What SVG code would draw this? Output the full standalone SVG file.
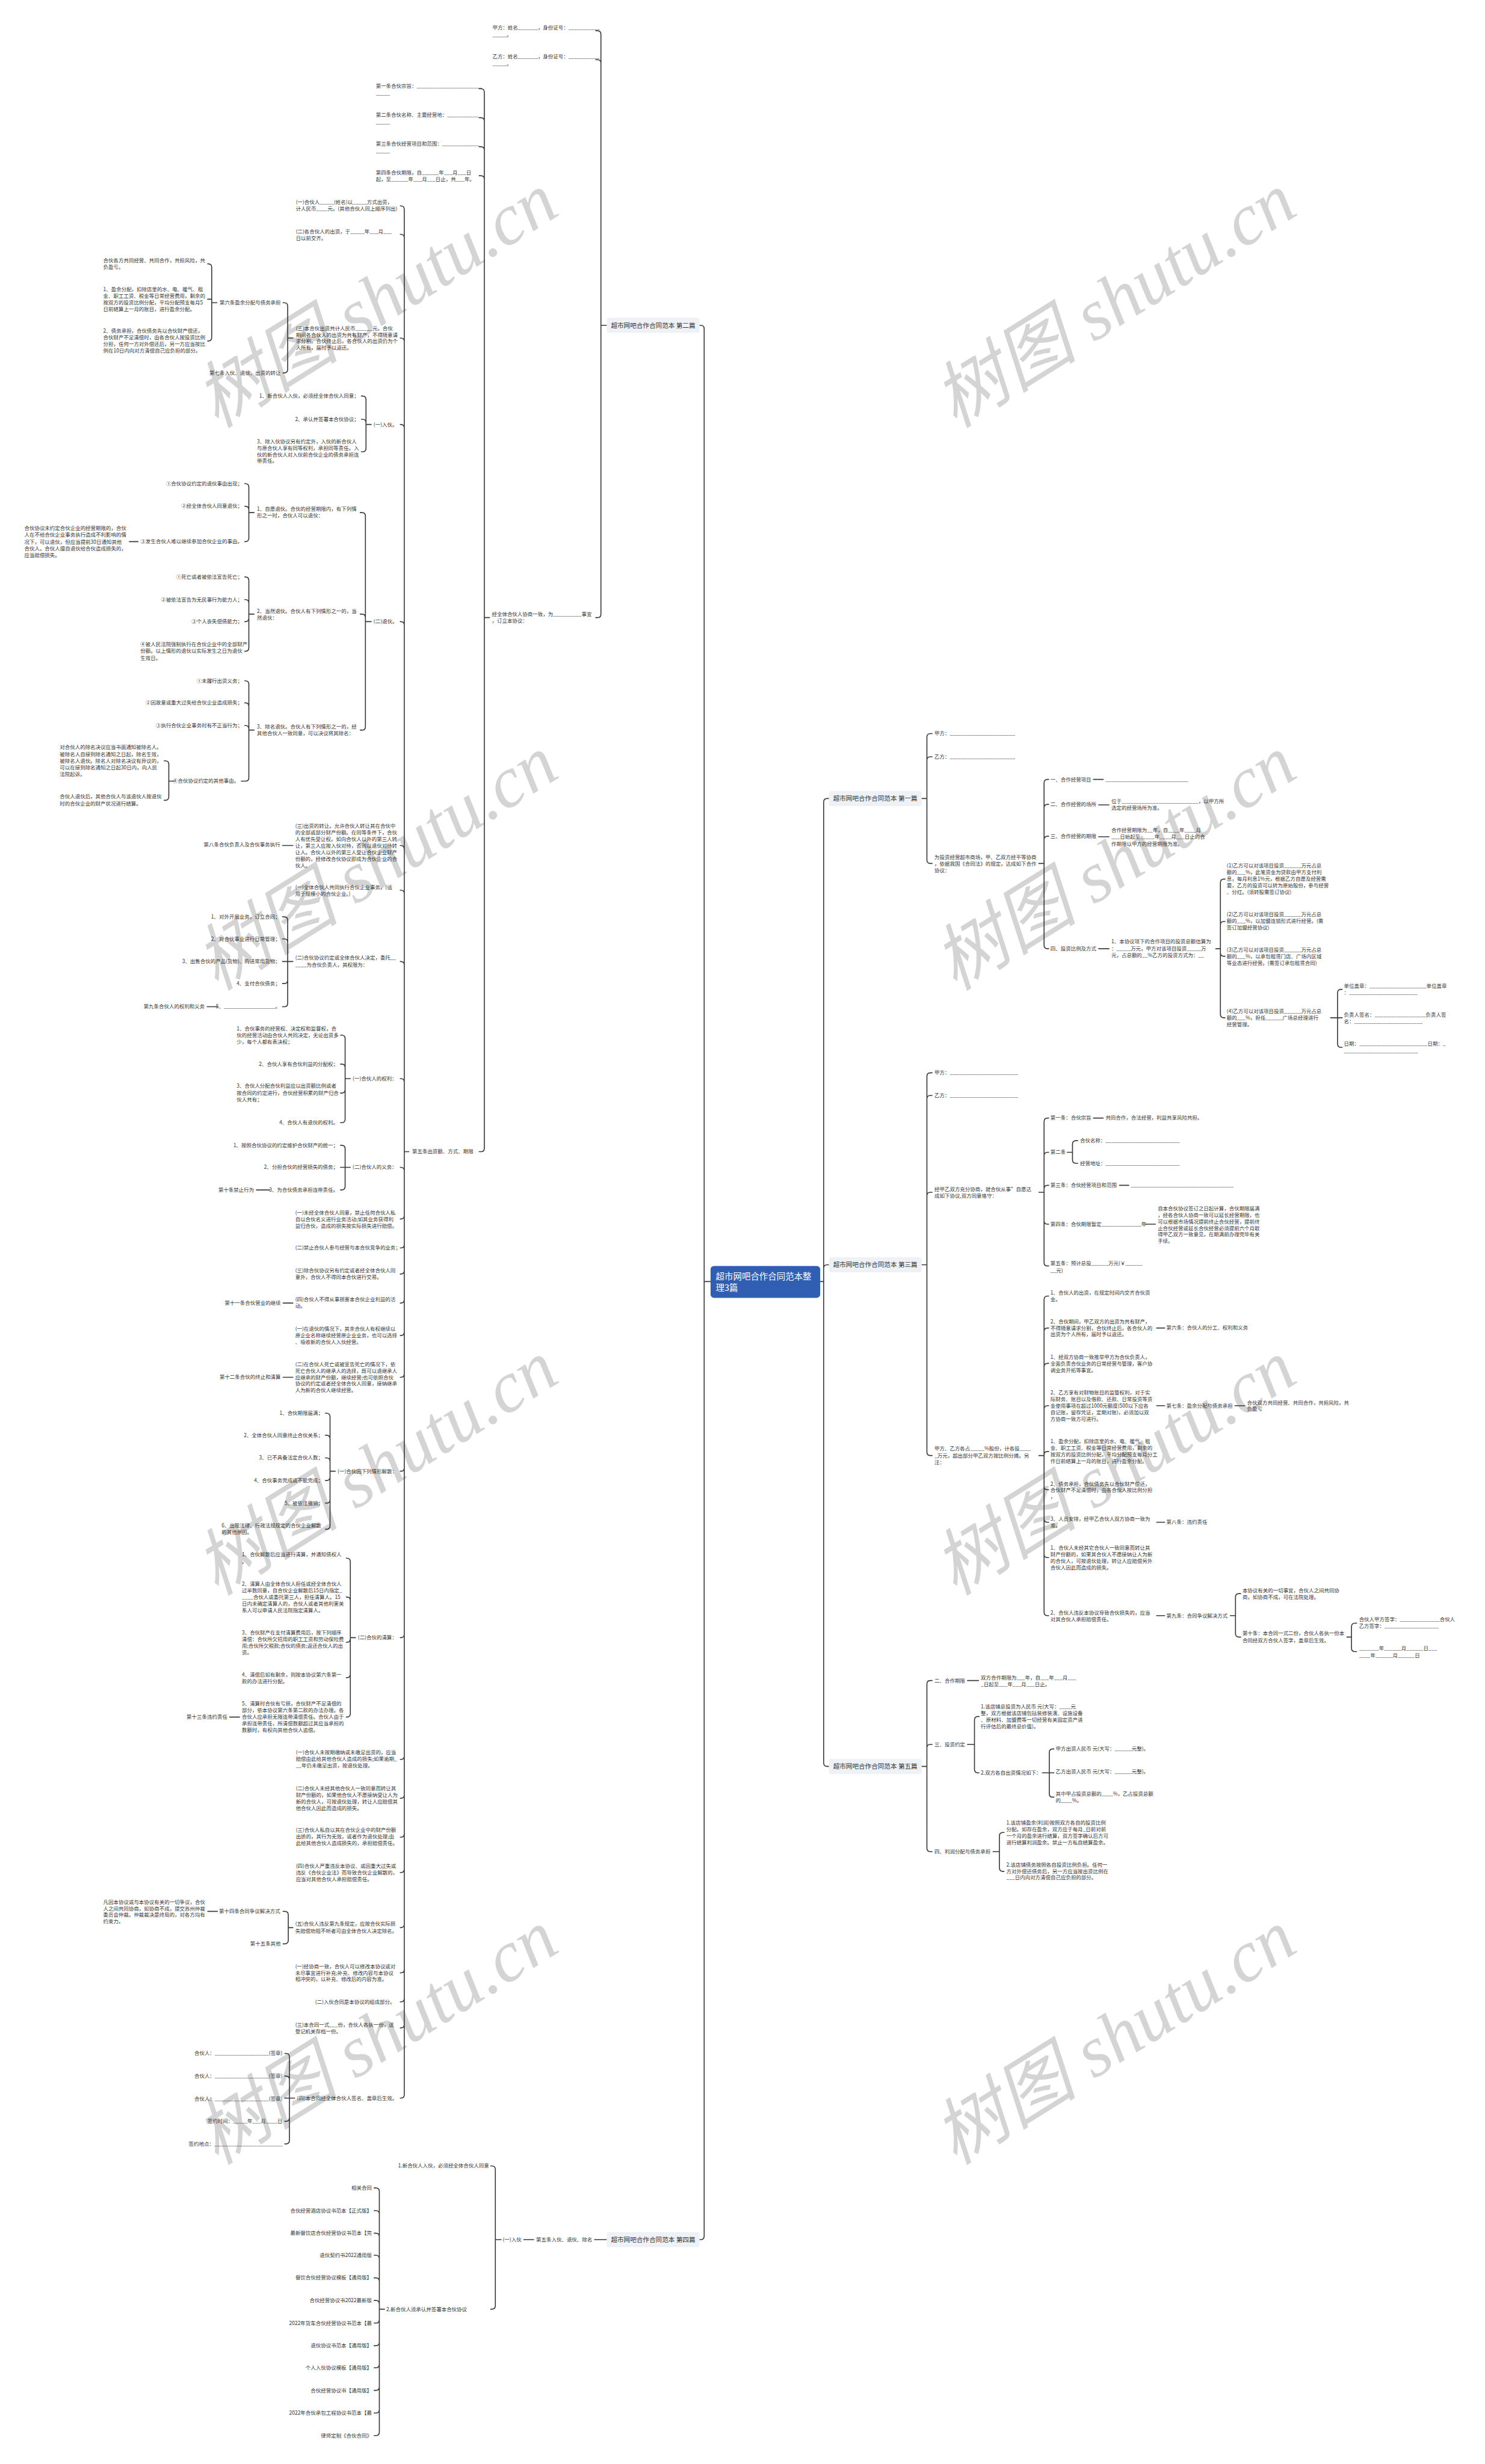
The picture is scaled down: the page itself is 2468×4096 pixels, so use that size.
<svg xmlns="http://www.w3.org/2000/svg" width="2468" height="4096" viewBox="0 0 2468 4096">
<style>
.t{font-family:"Noto Sans CJK SC","Noto Sans",sans-serif;font-size:8.8px;fill:#333}
.e{text-anchor:end}
.bl{font-family:"Noto Sans CJK SC","Noto Sans",sans-serif;font-size:11px;fill:#333;text-anchor:middle}
.bx{fill:#eef1f6}
.c{stroke:#3a3a3a;stroke-width:1.7;fill:none;stroke-linecap:round}
.wm{font-family:"Liberation Serif","Noto Sans CJK SC",serif;font-size:125px;font-style:italic;fill:#d4d4d4;text-anchor:middle}
</style>
<rect width="2468" height="4096" fill="#fff"/>
<g transform="scale(0.964)">
<g id="watermark">
<text class="wm" transform="translate(650 520) rotate(-32)" y="40">树图 shutu.cn</text>
<text class="wm" transform="translate(1923 520) rotate(-32)" y="40">树图 shutu.cn</text>
<text class="wm" transform="translate(650 1490) rotate(-32)" y="40">树图 shutu.cn</text>
<text class="wm" transform="translate(1923 1490) rotate(-32)" y="40">树图 shutu.cn</text>
<text class="wm" transform="translate(650 2533) rotate(-32)" y="40">树图 shutu.cn</text>
<text class="wm" transform="translate(1923 2533) rotate(-32)" y="40">树图 shutu.cn</text>
<text class="wm" transform="translate(650 3515) rotate(-32)" y="40">树图 shutu.cn</text>
<text class="wm" transform="translate(1923 3515) rotate(-32)" y="40">树图 shutu.cn</text>
</g>
<g id="connectors">
<path class="c" d="M1414 2210H1420V1383Q1420 1377 1426 1377H1429M1420 2210V2187Q1420 2181 1426 2181H1429M1420 2210V3040Q1420 3046 1426 3046H1429M1225 2210H1214V567Q1214 561 1208 561H1206M1214 2210V3856Q1214 3862 1208 3862H1206"/>
<path class="c" d="M1589 1377H1598V1271Q1598 1265 1604 1265H1607M1598 1377V1311Q1598 1305 1604 1305H1607M1598 1377V1483Q1598 1489 1604 1489H1607"/>
<path class="c" d="M1791 1489H1800V1350Q1800 1344 1806 1344H1808M1800 1489V1393Q1800 1387 1806 1387H1808M1800 1489V1448Q1800 1442 1806 1442H1808M1800 1489V1630Q1800 1636 1806 1636H1808M1885 1344H1902M1894 1388H1912M1894 1443H1912M1894 1636H1912"/>
<path class="c" d="M2096 1636H2104V1522Q2104 1516 2110 1516H2112M2104 1636V1595Q2104 1589 2110 1589H2112M2104 1636V1643Q2104 1649 2110 1649H2112M2104 1636V1749Q2104 1755 2110 1755H2112"/>
<path class="c" d="M2294 1755H2306V1712Q2306 1706 2312 1706H2314M2306 1755H2314M2306 1755V1800Q2306 1806 2312 1806H2314"/>
<path class="c" d="M1589 2181H1598V1856Q1598 1850 1604 1850H1607M1598 2181V1895Q1598 1889 1604 1889H1607M1598 2181V2062Q1598 2056 1604 2056H1607M1598 2181V2504Q1598 2510 1604 2510H1607"/>
<path class="c" d="M1791 2056H1800V1934Q1800 1928 1806 1928H1808M1800 2056V1993Q1800 1987 1806 1987H1808M1800 2056V2050Q1800 2044 1806 2044H1808M1800 2056V2105Q1800 2111 1806 2111H1808M1800 2056V2177Q1800 2183 1806 2183H1808M1885 1928H1902M1840 1987H1849V1973Q1849 1967 1855 1967H1858M1849 1987V2000Q1849 2006 1855 2006H1858M1930 2044H1946M1975 2111H1992"/>
<path class="c" d="M1791 2510H1800V2241Q1800 2235 1806 2235H1808M1800 2510V2296Q1800 2290 1806 2290H1808M1800 2510V2357Q1800 2351 1806 2351H1808M1800 2510V2430Q1800 2424 1806 2424H1808M1800 2510V2509Q1800 2503 1806 2503H1808M1800 2510V2563Q1800 2569 1806 2569H1808M1800 2510V2619Q1800 2625 1806 2625H1808M1800 2510V2680Q1800 2686 1806 2686H1808M1800 2510V2780Q1800 2786 1806 2786H1808M1994 2290H2008M1994 2424H2008M1994 2625H2008M1994 2786H2008M2129 2424H2146"/>
<path class="c" d="M2121 2786H2130V2754Q2130 2748 2136 2748H2139M2130 2786V2817Q2130 2823 2136 2823H2139M2322 2823H2330V2805Q2330 2799 2336 2799H2339M2330 2823V2842Q2330 2848 2336 2848H2339"/>
<path class="c" d="M1589 3046H1598V2904Q1598 2898 1604 2898H1607M1598 3046V3014Q1598 3008 1604 3008H1607M1598 3046V3187Q1598 3193 1604 3193H1607M1668 2898H1687M1668 3008H1680V2966Q1680 2960 1686 2960H1688M1680 3008V3051Q1680 3057 1686 3057H1688M1797 3057H1809V3022Q1809 3016 1815 3016H1817M1809 3057H1817M1809 3057V3093Q1809 3099 1815 3099H1817M1712 3193H1723V3166Q1723 3160 1729 3160H1731M1723 3193V3221Q1723 3227 1729 3227H1731"/>
<path class="c" d="M1046 3862H1025M920 3862H903M864 3862H854V3741Q854 3735 848 3735H846M854 3862V3976Q854 3982 848 3982H846"/>
<path class="c" d="M663 3982H654V3779Q654 3773 648 3773H645M654 3982V3818Q654 3812 648 3812H645M654 3982V3857Q654 3851 648 3851H645M654 3982V3895Q654 3889 648 3889H645M654 3982V3934Q654 3928 648 3928H645M654 3982V3973Q654 3967 648 3967H645M654 3982V4000Q654 4006 648 4006H645M654 3982V4039Q654 4045 648 4045H645M654 3982V4077Q654 4083 648 4083H645M654 3982V4116Q654 4122 648 4122H645M654 3982V4155Q654 4161 648 4161H645M654 3982V4194Q654 4200 648 4200H645"/>
<path class="c" d="M1046 561H1036V59Q1036 53 1030 53H1027M1036 561V109Q1036 103 1030 103H1027M1036 561V1059Q1036 1065 1030 1065H1027"/>
<path class="c" d="M844 1065H835V159Q835 153 829 153H826M835 1065V209Q835 203 829 203H826M835 1065V259Q835 253 829 253H826M835 1065V309Q835 303 829 303H826M835 1065V1980Q835 1986 829 1986H826"/>
<path class="c" d="M705 1986H697V361Q697 355 691 355H690M697 1986V410Q697 404 691 404H690M697 1986V589Q697 583 691 583H690M697 1986V738Q697 732 691 732H690M697 1986V1078Q697 1072 691 1072H690M697 1986V1464Q697 1458 691 1458H690M697 1986V1541Q697 1535 691 1535H690M697 1986V1664Q697 1658 691 1658H690M697 1986V1866Q697 1860 691 1860H690M697 1986V2019Q697 2013 691 2013H690M697 1986V2096Q697 2102 691 2102H690M697 1986V2146Q697 2152 691 2152H690M697 1986V2191Q697 2197 691 2197H690M697 1986V2241Q697 2247 691 2247H690M697 1986V2297Q697 2303 691 2303H690M697 1986V2369Q697 2375 691 2375H690M697 1986V2531Q697 2537 691 2537H690M697 1986V2818Q697 2824 691 2824H690M697 1986V3028Q697 3034 691 3034H690M697 1986V3095Q697 3101 691 3101H690M697 1986V3162Q697 3168 691 3168H690M697 1986V3223Q697 3229 691 3229H690M697 1986V3318Q697 3324 691 3324H690M697 1986V3396Q697 3402 691 3402H690M697 1986V3446Q697 3452 691 3452H690M697 1986V3491Q697 3497 691 3497H690M697 1986V3612Q697 3618 691 3618H690"/>
<path class="c" d="M505 583H496V528Q496 522 490 522H488M496 583V637Q496 643 490 643H488M374 522H365V461Q365 455 359 455H358M365 522V516H358M365 522V582Q365 588 359 588H358"/>
<path class="c" d="M640 732H631V689Q631 683 625 683H623M631 732V729Q631 723 625 723H623M631 732V773Q631 779 625 779H623"/>
<path class="c" d="M640 1072H630V890Q630 884 624 884H621M630 1072V1065Q630 1059 624 1059H621M630 1072V1253Q630 1259 624 1259H621"/>
<path class="c" d="M438 884H429V840Q429 834 423 834H422M429 884V879Q429 873 423 873H422M429 884V928Q429 934 423 934H422M238 934H223"/>
<path class="c" d="M438 1059H429V1001Q429 995 423 995H422M429 1059V1040Q429 1034 423 1034H422M429 1059V1066Q429 1072 423 1072H422M429 1059V1117Q429 1123 423 1123H422"/>
<path class="c" d="M438 1259H429V1180Q429 1174 423 1174H422M429 1259V1218Q429 1212 423 1212H422M429 1259V1257Q429 1251 423 1251H422M429 1259V1341Q429 1347 423 1347H416M300 1347H291V1318Q291 1312 285 1312H283M291 1347V1374Q291 1380 285 1380H283"/>
<path class="c" d="M505 1458H487M505 1658H496V1587Q496 1581 490 1581H487M496 1658V1625Q496 1619 490 1619H487M496 1658H487M496 1658V1690Q496 1696 490 1696H487M496 1658V1730Q496 1736 490 1736H487M375 1736H357"/>
<path class="c" d="M604 1860H595V1791Q595 1785 589 1785H587M595 1860V1841Q595 1835 589 1835H587M595 1860V1879Q595 1885 589 1885H587M595 1860V1930Q595 1936 589 1936H587M604 2013H595V1981Q595 1975 589 1975H587M595 2013H587M595 2013V2046Q595 2052 589 2052H587M465 2052H442"/>
<path class="c" d="M505 2247H488M505 2375H488M578 2537H569V2443Q569 2437 563 2437H561M569 2537V2481Q569 2475 563 2475H561M569 2537V2520Q569 2514 563 2514H561M569 2537V2547Q569 2553 563 2553H561M569 2537V2586Q569 2592 563 2592H561M569 2537V2631Q569 2637 563 2637H561"/>
<path class="c" d="M613 2824H604V2693Q604 2687 598 2687H597M604 2824V2760Q604 2754 598 2754H597M604 2824V2826Q604 2832 598 2832H597M604 2824V2887Q604 2893 598 2893H597M604 2824V2955Q604 2961 598 2961H597M413 2961H396"/>
<path class="c" d="M505 3324H497V3302Q497 3296 491 3296H488M497 3324V3346Q497 3352 491 3352H488M375 3296H358"/>
<path class="c" d="M508 3618H499V3547Q499 3541 493 3541H491M499 3618V3586Q499 3580 493 3580H491M499 3618H491M499 3618V3652Q499 3658 493 3658H491M499 3618V3691Q499 3697 493 3697H491"/>
</g>
<g id="center"><rect x="1225" y="2183" width="189" height="55" rx="6" fill="#2f5eb3"/><text x="1234" y="2206" font-family="Noto Sans CJK SC,sans-serif" font-size="15" fill="#fff"><tspan x="1234">超市网吧合作合同范本整</tspan><tspan x="1234" dy="20">理3篇</tspan></text></g>
<g id="b1"><rect class="bx" x="1429" y="1364" width="160" height="26" rx="4"/><text class="bl" x="1509" y="1381">超市网吧合作合同范本 第一篇</text></g>
<g id="b2"><rect class="bx" x="1046" y="548" width="160" height="26" rx="4"/><text class="bl" x="1126" y="565">超市网吧合作合同范本 第二篇</text></g>
<g id="b3"><rect class="bx" x="1429" y="2168" width="160" height="26" rx="4"/><text class="bl" x="1509" y="2185">超市网吧合作合同范本 第三篇</text></g>
<g id="b4"><rect class="bx" x="1046" y="3849" width="160" height="26" rx="4"/><text class="bl" x="1126" y="3866">超市网吧合作合同范本 第四篇</text></g>
<g id="b5"><rect class="bx" x="1429" y="3033" width="160" height="26" rx="4"/><text class="bl" x="1509" y="3050">超市网吧合作合同范本 第五篇</text></g>
<g id="n1">
<text class="t" x="1611" y="1268">甲方：_______________________</text>
<text class="t" x="1611" y="1308">乙方：_______________________</text>
<text class="t" x="1611" y="1481"><tspan x="1611">为投资经营超市商场，甲、乙双方经平等协商</tspan><tspan x="1611" dy="11.5">，依据我国《合同法》的规定，达成如下合作</tspan><tspan x="1611" dy="11.5">协议：</tspan></text>
<text class="t" x="1811" y="1347">一、合作经营项目</text>
<text class="t" x="1906" y="1347">_____________________________</text>
<text class="t" x="1811" y="1390">二、合作经营的场所</text>
<text class="t" x="1916" y="1385"><tspan x="1916">位于___________________________，以甲方所</tspan><tspan x="1916" dy="11.5">选定的经营场所为准。</tspan></text>
<text class="t" x="1811" y="1445">三、合作经营的期限</text>
<text class="t" x="1916" y="1435"><tspan x="1916">合作经营期限为__年，自____年____月</tspan><tspan x="1916" dy="11.5">___日始起至_____年____月___日止的合</tspan><tspan x="1916" dy="11.5">作期限以甲方的经营期限为准。</tspan></text>
<text class="t" x="1811" y="1639">四、投资比例及方式</text>
<text class="t" x="1916" y="1627"><tspan x="1916">1、本协议项下的合作项目的投资总额估算为</tspan><tspan x="1916" dy="11.5">：_____万元，甲方对该项目投资_____万</tspan><tspan x="1916" dy="11.5">元，占总额的__%乙方的投资方式为：__</tspan></text>
<text class="t" x="2115" y="1496"><tspan x="2115">(1)乙方可以对该项目投资______万元占总</tspan><tspan x="2115" dy="11.5">额的___%，此笔资金为贷款由甲方支付利</tspan><tspan x="2115" dy="11.5">息，每月利息1%元，根据乙方自愿及经营需</tspan><tspan x="2115" dy="11.5">要，乙方的投资可以转为原始股份，参与经营</tspan><tspan x="2115" dy="11.5">、分红。(须转股需签订协议)</tspan></text>
<text class="t" x="2115" y="1580"><tspan x="2115">(2)乙方可以对该项目投资______万元占总</tspan><tspan x="2115" dy="11.5">额的___%，以加盟连锁形式进行经营。(需</tspan><tspan x="2115" dy="11.5">签订加盟经营协议)</tspan></text>
<text class="t" x="2115" y="1641"><tspan x="2115">(3)乙方可以对该项目投资______万元占总</tspan><tspan x="2115" dy="11.5">额的___%，以承包租赁门店、广场内区域</tspan><tspan x="2115" dy="11.5">等业态进行经营。(需签订承包租赁合同)</tspan></text>
<text class="t" x="2115" y="1747"><tspan x="2115">(4)乙方可以对该项目投资______万元占总</tspan><tspan x="2115" dy="11.5">额的___%，担任______广场总经理进行</tspan><tspan x="2115" dy="11.5">经营管理。</tspan></text>
<text class="t" x="2317" y="1703"><tspan x="2317">单位盖章：____________________单位盖章</tspan><tspan x="2317" dy="11.5">：________________________</tspan></text>
<text class="t" x="2317" y="1753"><tspan x="2317">负责人签名：__________________负责人签</tspan><tspan x="2317" dy="11.5">名：________________________</tspan></text>
<text class="t" x="2317" y="1803"><tspan x="2317">日期：________________________日期：_</tspan><tspan x="2317" dy="12.5">__________________________</tspan></text>
</g>
<g id="n3">
<text class="t" x="1611" y="1853">甲方：________________________</text>
<text class="t" x="1611" y="1892">乙方：________________________</text>
<text class="t" x="1611" y="2054"><tspan x="1611">经甲乙双方充分协商，就合伙从事”自愿达</tspan><tspan x="1611" dy="11.5">成如下协议,双方同意恪守：</tspan></text>
<text class="t" x="1811" y="1931">第一条：合伙宗旨</text>
<text class="t" x="1906" y="1931">共同合作，合法经营，利益共享风险共担。</text>
<text class="t" x="1811" y="1990">第二条</text>
<text class="t" x="1862" y="1970">合伙名称：__________________________</text>
<text class="t" x="1862" y="2009">经营地址：__________________________</text>
<text class="t" x="1811" y="2047">第三条：合伙经营项目和范围</text>
<text class="t" x="1950" y="2047">____________________________________</text>
<text class="t" x="1811" y="2114">第四条：合伙期限暂定______________年</text>
<text class="t" x="1996" y="2087"><tspan x="1996">自本合伙协议签订之日起计算，合伙期限届满</tspan><tspan x="1996" dy="11.3">，经各合伙人协商一致可以延长经营期限，也</tspan><tspan x="1996" dy="11.3">可以根据市场情况提前终止合伙经营，提前终</tspan><tspan x="1996" dy="11.3">止合伙经营或延长合伙经营必须提前六个月取</tspan><tspan x="1996" dy="11.3">得甲乙双方一致意见，在期满前办理完毕有关</tspan><tspan x="1996" dy="11.3">手续。</tspan></text>
<text class="t" x="1811" y="2182"><tspan x="1811">第五条：预计总投______万元(￥______</tspan><tspan x="1811" dy="11.5">__元)</tspan></text>
<text class="t" x="1611" y="2501"><tspan x="1611">甲方、乙方各占_____%股份，计各投____</tspan><tspan x="1611" dy="12">_万元，超出部分甲乙双方按比例分摊。另</tspan><tspan x="1611" dy="12">注：</tspan></text>
<text class="t" x="1811" y="2232"><tspan x="1811">1、合伙人的出资，在规定时间内交齐合伙资</tspan><tspan x="1811" dy="11.5">金。</tspan></text>
<text class="t" x="1811" y="2282"><tspan x="1811">2、合伙期间，甲乙双方的出资为共有财产，</tspan><tspan x="1811" dy="11.2">不得随意请求分割，合伙终止后，各合伙人的</tspan><tspan x="1811" dy="11.2">出资为个人所有，届时予以返还。</tspan></text>
<text class="t" x="2011" y="2293">第六条：合伙人的分工、权利和义务</text>
<text class="t" x="1811" y="2343"><tspan x="1811">1、经双方协商一致推举甲方为合伙负责人，</tspan><tspan x="1811" dy="11.5">全面负责合伙业务的日常经营与管理，客户协</tspan><tspan x="1811" dy="11.5">调业务开拓等事宜。</tspan></text>
<text class="t" x="1811" y="2405"><tspan x="1811">2、乙方享有对财物账目的监管权利，对于实</tspan><tspan x="1811" dy="11.3">际财务、账目以及借款、还款、日常投资等资</tspan><tspan x="1811" dy="11.3">金使用事项在超过1000元额度(500以下应各</tspan><tspan x="1811" dy="11.3">自记账，留存凭证，定期对账)，必须加以双</tspan><tspan x="1811" dy="11.3">方协商一致方可进行。</tspan></text>
<text class="t" x="2011" y="2427">第七条：盈余分配与债务承担</text>
<text class="t" x="2150" y="2422"><tspan x="2150">合伙双方共同经营、共同合作，共担风险，共</tspan><tspan x="2150" dy="11">负盈亏</tspan></text>
<text class="t" x="1811" y="2489"><tspan x="1811">1、盈余分配，扣除店里的水、电、暖气、租</tspan><tspan x="1811" dy="11.4">金、职工工资、税金等日常经营费用，剩余的</tspan><tspan x="1811" dy="11.4">按双方的投资比例分配，平均分配预支每月分工</tspan><tspan x="1811" dy="11.4">作日前结算上一月的账目，进行盈余分配。</tspan></text>
<text class="t" x="1811" y="2562"><tspan x="1811">2、债务承担，合伙债务先以合伙财产偿还，</tspan><tspan x="1811" dy="11">合伙财产不足清偿时，由各合伙人按比例分担</tspan><tspan x="1811" dy="11">，</tspan></text>
<text class="t" x="1811" y="2622"><tspan x="1811">3、人员安排，经甲乙合伙人双方协商一致为</tspan><tspan x="1811" dy="11.5">准。</tspan></text>
<text class="t" x="2011" y="2628">第八条：违约责任</text>
<text class="t" x="1811" y="2672"><tspan x="1811">1、合伙人未经其它合伙人一致同意而转让其</tspan><tspan x="1811" dy="11.5">财产份额的，如果其合伙人不愿接纳让人为新</tspan><tspan x="1811" dy="11.5">的合伙人，可按退伙处理，转让人应赔偿另外</tspan><tspan x="1811" dy="11.5">合伙人因此而造成的损失。</tspan></text>
<text class="t" x="1811" y="2784"><tspan x="1811">2、合伙人违反本协议导致合伙损失的，应当</tspan><tspan x="1811" dy="11.5">对其合伙人承担赔偿责任。</tspan></text>
<text class="t" x="2011" y="2789">第九条：合同争议解决方式</text>
<text class="t" x="2142" y="2746"><tspan x="2142">本协议有关的一切事宜，合伙人之间共同协</tspan><tspan x="2142" dy="11.5">商，如协商不成，可在法院处理。</tspan></text>
<text class="t" x="2142" y="2820"><tspan x="2142">第十条：本合同一式二份，合伙人各执一份本</tspan><tspan x="2142" dy="11.8">合同经双方合伙人签字，盖章后生效。</tspan></text>
<text class="t" x="2343" y="2796"><tspan x="2343">合伙人甲方签字：______________合伙人</tspan><tspan x="2343" dy="11.5">乙方签字：___________________</tspan></text>
<text class="t" x="2343" y="2845"><tspan x="2343">_______年______月______日___</tspan><tspan x="2343" dy="13">____年______月______日</tspan></text>
</g>
<g id="n5">
<text class="t" x="1611" y="2901">二、合作期限</text>
<text class="t" x="1691" y="2896"><tspan x="1691">双方合作期限为___年，自___年___月___</tspan><tspan x="1691" dy="11.5">_日起至___年___月___日止。</tspan></text>
<text class="t" x="1611" y="3011">三、投资约定</text>
<text class="t" x="1691" y="2946"><tspan x="1691">1.该店铺总投资为人民币 元(大写：____元</tspan><tspan x="1691" dy="11.5">整，双方根据该店铺包括装修装潢、设施设备</tspan><tspan x="1691" dy="11.5">、原材料、加盟费等一切经营有关固定资产进</tspan><tspan x="1691" dy="11.5">行评估后的最终总价值)。</tspan></text>
<text class="t" x="1691" y="3060">2.双方各自出资情况如下：</text>
<text class="t" x="1820" y="3019">甲方出资人民币 元(大写：______元整)。</text>
<text class="t" x="1820" y="3058">乙方出资人民币 元(大写：______元整)。</text>
<text class="t" x="1820" y="3096"><tspan x="1820">其中甲占投资总额的____%，乙占投资总额</tspan><tspan x="1820" dy="11.5">的____%。</tspan></text>
<text class="t" x="1611" y="3196">四、利润分配与债务承担</text>
<text class="t" x="1735" y="3146"><tspan x="1735">1.该店铺盈余(利润)按照双方各自的投资比例</tspan><tspan x="1735" dy="11.4">分配。如存在盈余，双方应于每月_日前对前</tspan><tspan x="1735" dy="11.4">一个月的盈余进行结算，双方签字确认后方可</tspan><tspan x="1735" dy="11.4">进行结算利润盈余。禁止一方私自结算盈余。</tspan></text>
<text class="t" x="1735" y="3219"><tspan x="1735">2.该店铺债务按照各自投资比例负担。任何一</tspan><tspan x="1735" dy="11">方对外偿还债务后，另一方应当按出资比例在</tspan><tspan x="1735" dy="11">___日内向对方清偿自己应负担的部分。</tspan></text>
</g>
<g id="n4">
<text class="t e" x="1021" y="3865">第五条入伙、退伙、除名</text>
<text class="t e" x="899" y="3865">(一)入伙</text>
<text class="t e" x="843" y="3738">1.新合伙人入伙，必须经全体合伙人同意</text>
<text class="t e" x="805" y="3985">2.新合伙人须承认并签署本合伙协议</text>
<text class="t e" x="641" y="3776">相关合同</text>
<text class="t e" x="641" y="3815">合伙经营酒店协议书范本【正式版】</text>
<text class="t e" x="641" y="3854">最新餐饮店合伙经营协议书范本【完</text>
<text class="t e" x="641" y="3892">退伙契约书2022通用版</text>
<text class="t e" x="641" y="3931">餐饮合伙经营协议模板【通用版】</text>
<text class="t e" x="641" y="3970">合伙经营协议书2022最新版</text>
<text class="t e" x="641" y="4009">2022年货车合伙经营协议书范本【最</text>
<text class="t e" x="641" y="4048">退伙协议书范本【通用版】</text>
<text class="t e" x="641" y="4086">个人入伙协议模板【通用版】</text>
<text class="t e" x="641" y="4125">合伙经营协议书【通用版】</text>
<text class="t e" x="641" y="4164">2022年合伙承包工程协议书范本【最</text>
<text class="t e" x="641" y="4203">律师定制《合伙合同》</text>
</g>
<g id="n2">
<text class="t" x="849" y="51"><tspan x="849">甲方：姓名_______，身份证号：___________</tspan><tspan x="849" dy="12">_____。</tspan></text>
<text class="t" x="849" y="101"><tspan x="849">乙方：姓名_______，身份证号：___________</tspan><tspan x="849" dy="12">_____。</tspan></text>
<text class="t" x="848" y="1062"><tspan x="848">经全体合伙人协商一致，为__________事宜</tspan><tspan x="848" dy="11.5">，订立本协议：</tspan></text>
<text class="t" x="648" y="151"><tspan x="648">第一条合伙宗旨：_______________________</tspan><tspan x="648" dy="12.5">_____</tspan></text>
<text class="t" x="648" y="201"><tspan x="648">第二条合伙名称、主要经营地：___________</tspan><tspan x="648" dy="12.5">_____</tspan></text>
<text class="t" x="648" y="251"><tspan x="648">第三条合伙经营项目和范围：_____________</tspan><tspan x="648" dy="12.5">_____</tspan></text>
<text class="t" x="648" y="301"><tspan x="648">第四条合伙期限，自______年___月___日</tspan><tspan x="648" dy="11.5">起，至______年___月___日止，共___年。</tspan></text>
<text class="t e" x="816" y="1989">第五条出资额、方式、期限</text>
<text class="t" x="510" y="352"><tspan x="510">(一)合伙人_____(姓名)以_____方式出资，</tspan><tspan x="510" dy="11.5">计人民币____元。(其他合伙人同上顺序列出)</tspan></text>
<text class="t" x="510" y="402"><tspan x="510">(二)各合伙人的出资，于_____年___月___</tspan><tspan x="510" dy="11.5">日以前交齐。</tspan></text>
<text class="t" x="510" y="569"><tspan x="510">(三)本合伙出资共计人民币______元。合伙</tspan><tspan x="510" dy="11.4">期间各合伙人的出资为共有财产，不得随意请</tspan><tspan x="510" dy="11.4">求分割。合伙终止后，各合伙人的出资仍为个</tspan><tspan x="510" dy="11.4">人所有，届时予以返还。</tspan></text>
<text class="t e" x="484" y="525">第六条盈余分配与债务承担</text>
<text class="t e" x="484" y="646">第七条入伙、退伙、出资的转让</text>
<text class="t" x="178" y="452"><tspan x="178">合伙各方共同经营、共同合作，共担风险，共</tspan><tspan x="178" dy="11.5">负盈亏。</tspan></text>
<text class="t" x="178" y="502"><tspan x="178">1、盈余分配，扣除店里的水、电、暖气、租</tspan><tspan x="178" dy="11.4">金、职工工资、税金等日常经营费用，剩余的</tspan><tspan x="178" dy="11.4">按双方的投资比例分配，平均分配预支每月5</tspan><tspan x="178" dy="11.4">日前结算上一月的账目，进行盈余分配。</tspan></text>
<text class="t" x="178" y="574"><tspan x="178">2、债务承担，合伙债务先以合伙财产偿还，</tspan><tspan x="178" dy="11.4">合伙财产不足清偿时，由各合伙人按投资比例</tspan><tspan x="178" dy="11.4">分担，任何一方对外偿还后，另一方应当按比</tspan><tspan x="178" dy="11.4">例在10日内向对方清偿自己应负担的部分。</tspan></text>
<text class="t" x="644" y="735">(一)入伙。</text>
<text class="t e" x="619" y="686">1、新合伙人入伙，必须经全体合伙人同意；</text>
<text class="t e" x="619" y="726">2、承认并签署本合伙协议；</text>
<text class="t" x="443" y="765"><tspan x="443">3、除入伙协议另有约定外，入伙的新合伙人</tspan><tspan x="443" dy="11">与原合伙人享有同等权利，承担同等责任。入</tspan><tspan x="443" dy="11">伙的新合伙人对入伙前合伙企业的债务承担连</tspan><tspan x="443" dy="11">带责任。</tspan></text>
<text class="t" x="644" y="1075">(二)退伙。</text>
<text class="t" x="443" y="881"><tspan x="443">1、自愿退伙。合伙的经营期限内，有下列情</tspan><tspan x="443" dy="11.5">形之一时，合伙人可以退伙：</tspan></text>
<text class="t e" x="418" y="837">①合伙协议约定的退伙事由出现；</text>
<text class="t e" x="418" y="876">②经全体合伙人同意退伙；</text>
<text class="t e" x="418" y="937">③发生合伙人难以继续参加合伙企业的事由。</text>
<text class="t" x="42" y="914"><tspan x="42">合伙协议未约定合伙企业的经营期限的，合伙</tspan><tspan x="42" dy="11.7">人在不给合伙企业事务执行造成不利影响的情</tspan><tspan x="42" dy="11.7">况下，可以退伙，但应当提前30日通知其他</tspan><tspan x="42" dy="11.7">合伙人。合伙人擅自退伙给合伙造成损失的，</tspan><tspan x="42" dy="11.7">应当赔偿损失。</tspan></text>
<text class="t" x="443" y="1057"><tspan x="443">2、当然退伙。合伙人有下列情形之一的，当</tspan><tspan x="443" dy="11.5">然退伙：</tspan></text>
<text class="t e" x="418" y="998">①死亡或者被依法宣告死亡；</text>
<text class="t e" x="418" y="1037">②被依法宣告为无民事行为能力人；</text>
<text class="t e" x="418" y="1075">③个人丧失偿债能力；</text>
<text class="t" x="242" y="1114"><tspan x="242">④被人民法院强制执行在合伙企业中的全部财产</tspan><tspan x="242" dy="11.8">份额。以上情形的退伙以实际发生之日为退伙</tspan><tspan x="242" dy="11.8">生效日。</tspan></text>
<text class="t" x="443" y="1256"><tspan x="443">3、除名退伙。合伙人有下列情形之一的，经</tspan><tspan x="443" dy="11.5">其他合伙人一致同意，可以决议将其除名：</tspan></text>
<text class="t e" x="418" y="1177">①未履行出资义务；</text>
<text class="t e" x="418" y="1215">②因故意或重大过失给合伙企业造成损失；</text>
<text class="t e" x="418" y="1254">③执行合伙企业事务时有不正当行为；</text>
<text class="t e" x="412" y="1350">④合伙协议约定的其他事由。</text>
<text class="t" x="103" y="1292"><tspan x="103">对合伙人的除名决议应当书面通知被除名人。</tspan><tspan x="103" dy="11.5">被除名人自接到除名通知之日起，除名生效，</tspan><tspan x="103" dy="11.5">被除名人退伙。除名人对除名决议有异议的，</tspan><tspan x="103" dy="11.5">可以在接到除名通知之日起30日内，向人民</tspan><tspan x="103" dy="11.5">法院起诉。</tspan></text>
<text class="t" x="103" y="1377"><tspan x="103">合伙人退伙后，其他合伙人与该退伙人按退伙</tspan><tspan x="103" dy="11.5">时的合伙企业的财产状况进行结算。</tspan></text>
<text class="t" x="509" y="1427"><tspan x="509">(三)出资的转让。允许合伙人转让其在合伙中</tspan><tspan x="509" dy="11.4">的全部或部分财产份额。在同等条件下，合伙</tspan><tspan x="509" dy="11.4">人有优先受让权。如向合伙人以外的第三人转</tspan><tspan x="509" dy="11.4">让，第三人应按入伙对待，否则以退伙对待转</tspan><tspan x="509" dy="11.4">让人。合伙人以外的第三人受让合伙企业财产</tspan><tspan x="509" dy="11.4">份额的，经修改合伙协议即成为合伙企业的合</tspan><tspan x="509" dy="11.4">伙人。</tspan></text>
<text class="t e" x="483" y="1460">第八条合伙负责人及合伙事务执行</text>
<text class="t" x="509" y="1533"><tspan x="509">(一)全体合伙人共同执行合伙企业事务。(适</tspan><tspan x="509" dy="11.5">用于规模小的合伙企业。)</tspan></text>
<text class="t" x="509" y="1655"><tspan x="509">(二)合伙协议约定或全体合伙人决定，委托__</tspan><tspan x="509" dy="11.5">____为合伙负责人，其权限为：</tspan></text>
<text class="t e" x="483" y="1584">1、对外开展业务，订立合同；</text>
<text class="t e" x="483" y="1622">2、对合伙事业进行日常管理；</text>
<text class="t e" x="483" y="1661">3、出售合伙的产品(货物)、购进常用货物；</text>
<text class="t e" x="483" y="1699">4、支付合伙债务；</text>
<text class="t e" x="483" y="1739">5、__________________。</text>
<text class="t e" x="353" y="1739">第九条合伙人的权利和义务</text>
<text class="t" x="608" y="1863">(一)合伙人的权利：</text>
<text class="t" x="408" y="1777"><tspan x="408">1、合伙事务的经营权、决定权和监督权，合</tspan><tspan x="408" dy="11.3">伙的经营活动由合伙人共同决定，无论出资多</tspan><tspan x="408" dy="11.3">少，每个人都有表决权；</tspan></text>
<text class="t e" x="583" y="1838">2、合伙人享有合伙利益的分配权；</text>
<text class="t" x="408" y="1876"><tspan x="408">3、合伙人分配合伙利益应以出资额比例或者</tspan><tspan x="408" dy="11.8">按合同的约定进行，合伙经营积累的财产归合</tspan><tspan x="408" dy="11.8">伙人共有；</tspan></text>
<text class="t e" x="583" y="1939">4、合伙人有退伙的权利。</text>
<text class="t" x="608" y="2016">(二)合伙人的义务：</text>
<text class="t e" x="583" y="1978">1、按照合伙协议的约定维护合伙财产的统一；</text>
<text class="t e" x="583" y="2016">2、分担合伙的经营损失的债务；</text>
<text class="t e" x="583" y="2055">3、为合伙债务承担连带责任。</text>
<text class="t e" x="438" y="2055">第十条禁止行为</text>
<text class="t" x="509" y="2094"><tspan x="509">(一)未经全体合伙人同意，禁止任何合伙人私</tspan><tspan x="509" dy="11.5">自以合伙名义进行业务活动;如其业务获得利</tspan><tspan x="509" dy="11.5">益归合伙，造成的损失按实际损失进行赔偿。</tspan></text>
<text class="t" x="509" y="2155">(二)禁止合伙人参与经营与本合伙竞争的业务；</text>
<text class="t" x="509" y="2194"><tspan x="509">(三)除合伙协议另有约定或者经全体合伙人同</tspan><tspan x="509" dy="11.5">意外，合伙人不得同本合伙进行交易。</tspan></text>
<text class="t" x="509" y="2244"><tspan x="509">(四)合伙人不得从事损害本合伙企业利益的活</tspan><tspan x="509" dy="11.5">动。</tspan></text>
<text class="t e" x="484" y="2250">第十一条合伙营业的继续</text>
<text class="t" x="509" y="2295"><tspan x="509">(一)在退伙的情况下，其余合伙人有权继续以</tspan><tspan x="509" dy="11">原企业名称继续经营原企业业务，也可以选择</tspan><tspan x="509" dy="11">、吸收新的合伙人入伙经营。</tspan></text>
<text class="t" x="509" y="2356"><tspan x="509">(二)在合伙人死亡或被宣告死亡的情况下，依</tspan><tspan x="509" dy="11.1">死亡合伙人的继承人的选择，既可以退继承人</tspan><tspan x="509" dy="11.1">应继承的财产份额，继续经营;也可依照合伙</tspan><tspan x="509" dy="11.1">协议的约定或者经全体合伙人同意，接纳继承</tspan><tspan x="509" dy="11.1">人为新的合伙人继续经营。</tspan></text>
<text class="t e" x="484" y="2378">第十二条合伙的终止和清算</text>
<text class="t" x="582" y="2540">(一)合伙因下列情形解散：</text>
<text class="t e" x="557" y="2440">1、合伙期限届满；</text>
<text class="t e" x="557" y="2478">2、全体合伙人同意终止合伙关系；</text>
<text class="t e" x="557" y="2517">3、已不具备法定合伙人数；</text>
<text class="t e" x="557" y="2556">4、合伙事务完成或不能完成；</text>
<text class="t e" x="557" y="2595">5、被依法撤销；</text>
<text class="t" x="382" y="2634"><tspan x="382">6、出现法律、行政法规规定的合伙企业解散</tspan><tspan x="382" dy="11.5">的其他原因。</tspan></text>
<text class="t" x="617" y="2827">(二)合伙的清算：</text>
<text class="t" x="417" y="2684"><tspan x="417">1、合伙解散后应当进行清算，并通知债权人</tspan><tspan x="417" dy="12.5">。</tspan></text>
<text class="t" x="417" y="2734"><tspan x="417">2、清算人由全体合伙人担任或经全体合伙人</tspan><tspan x="417" dy="11.5">过半数同意，自合伙企业解散后15日内指定_</tspan><tspan x="417" dy="11.5">____合伙人或委托第三人，担任清算人。15</tspan><tspan x="417" dy="11.5">日内未确定清算人的，合伙人或者其他利害关</tspan><tspan x="417" dy="11.5">系人可以申请人民法院指定清算人。</tspan></text>
<text class="t" x="417" y="2818"><tspan x="417">3、合伙财产在支付清算费用后，按下列顺序</tspan><tspan x="417" dy="11.5">清偿：合伙所欠招用的职工工资和劳动保险费</tspan><tspan x="417" dy="11.5">用;合伙所欠税款;合伙的债务;返还合伙人的出</tspan><tspan x="417" dy="11.5">资。</tspan></text>
<text class="t" x="417" y="2891"><tspan x="417">4、清偿后如有剩余，则按本协议第六条第一</tspan><tspan x="417" dy="11">款的办法进行分配。</tspan></text>
<text class="t" x="417" y="2941"><tspan x="417">5、清算时合伙有亏损，合伙财产不足清偿的</tspan><tspan x="417" dy="11.5">部分，依本协议第六条第二款的办法办理。各</tspan><tspan x="417" dy="11.5">合伙人应承担无限连带清偿责任。合伙人由于</tspan><tspan x="417" dy="11.5">承担连带责任，所清偿数额超过其应当承担的</tspan><tspan x="417" dy="11.5">数额时，有权向其他合伙人追偿。</tspan></text>
<text class="t e" x="392" y="2964">第十三条违约责任</text>
<text class="t" x="510" y="3025"><tspan x="510">(一)合伙人未按期缴纳或未缴足出资的，应当</tspan><tspan x="510" dy="11.5">赔偿由此给其他合伙人造成的损失;如果逾期_</tspan><tspan x="510" dy="11.5">__年仍未缴足出资，按退伙处理。</tspan></text>
<text class="t" x="510" y="3087"><tspan x="510">(二)合伙人未经其他合伙人一致同意而转让其</tspan><tspan x="510" dy="11.5">财产份额的，如果他合伙人不愿接纳受让人为</tspan><tspan x="510" dy="11.5">新的合伙人，可按退伙处理，转让人应赔偿其</tspan><tspan x="510" dy="11.5">他合伙人因此而造成的损失。</tspan></text>
<text class="t" x="510" y="3159"><tspan x="510">(三)合伙人私自以其在合伙企业中的财产份额</tspan><tspan x="510" dy="11.5">出质的，其行为无效，或者作为退伙处理;由</tspan><tspan x="510" dy="11.5">此给其他合伙人造成损失的，承担赔偿责任。</tspan></text>
<text class="t" x="510" y="3221"><tspan x="510">(四)合伙人严重违反本协议、或因重大过失或</tspan><tspan x="510" dy="11.5">违反《合伙企业法》而导致合伙企业解散的，</tspan><tspan x="510" dy="11.5">应当对其他合伙人承担赔偿责任。</tspan></text>
<text class="t" x="509" y="3321"><tspan x="509">(五)合伙人违反第九条规定，应按合伙实际损</tspan><tspan x="509" dy="12.3">失赔偿劝阻不听者可由全体合伙人决定除名。</tspan></text>
<text class="t e" x="483" y="3299">第十四条合同争议解决方式</text>
<text class="t" x="178" y="3283"><tspan x="178">凡因本协议或与本协议有关的一切争议，合伙</tspan><tspan x="178" dy="11.2">人之间共同协商，如协商不成，提交苏州仲裁</tspan><tspan x="178" dy="11.2">委员会仲裁。仲裁裁决是终局的，对各方均有</tspan><tspan x="178" dy="11.2">约束力。</tspan></text>
<text class="t e" x="484" y="3355">第十五条其他</text>
<text class="t" x="509" y="3394"><tspan x="509">(一)经协商一致，合伙人可以修改本协议或对</tspan><tspan x="509" dy="11.2">未尽事宜进行补充;补充、修改内容与本协议</tspan><tspan x="509" dy="11.2">相冲突的，以补充、修改后的内容为准。</tspan></text>
<text class="t e" x="681" y="3455">(二)入伙合同是本协议的组成部分。</text>
<text class="t" x="509" y="3495"><tspan x="509">(三)本合同一式___份，合伙人各执一份，送</tspan><tspan x="509" dy="11">登记机关存档一份。</tspan></text>
<text class="t" x="512" y="3621">(四)本合同经全体合伙人签名、盖章后生效。</text>
<text class="t e" x="487" y="3544">合伙人：___________________(签章)</text>
<text class="t e" x="487" y="3583">合伙人：___________________(签章)</text>
<text class="t e" x="487" y="3622">合伙人：___________________(签章)</text>
<text class="t e" x="487" y="3661">签约时间：_____年___月____日</text>
<text class="t e" x="487" y="3700">签约地点：________________________</text>
</g>
</g>
</svg>
